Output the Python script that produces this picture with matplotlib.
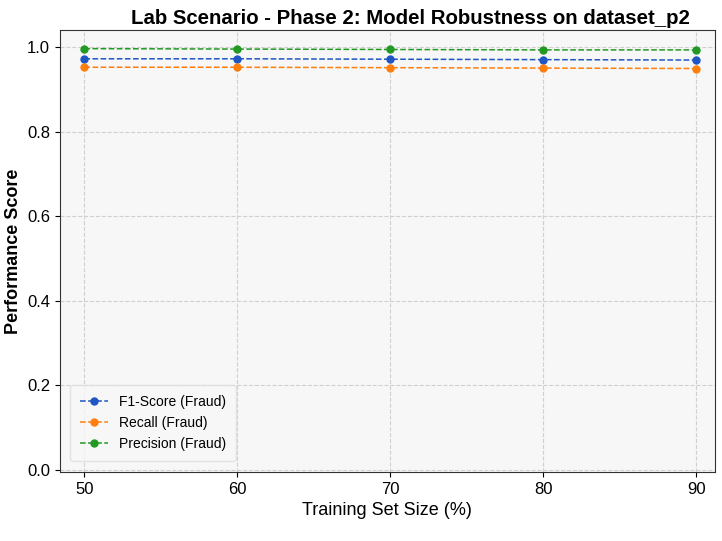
import matplotlib
matplotlib.use("Agg")
import matplotlib.pyplot as plt

plt.rcParams['font.family'] = ['Liberation Sans', 'DejaVu Sans']

train_sizes = [50, 60, 70, 80, 90]
f1_scores = [0.972, 0.972, 0.971, 0.970, 0.969]
recall_scores = [0.952, 0.952, 0.951, 0.950, 0.949]
precision_scores = [0.996, 0.995, 0.994, 0.993, 0.993]

series = [
    ("F1-Score (Fraud)", f1_scores, "#1f56c2"),
    ("Recall (Fraud)", recall_scores, "#ff7f0e"),
    ("Precision (Fraud)", precision_scores, "#229922"),
]

fig = plt.figure(figsize=(7.22, 5.41), dpi=100)
ax = fig.add_axes([0.083, 0.1275, 0.907, 0.817])
ax.set_facecolor("#f7f7f7")

for label, vals, col in series:
    ax.plot(train_sizes, vals, linestyle="--", marker="o", color=col,
            markersize=5, linewidth=1.1, label=label)

ax.set_xlim(48.4, 91.2)
ax.set_ylim(-0.005, 1.04)
ax.set_xticks(train_sizes)
ax.set_yticks([0.0, 0.2, 0.4, 0.6, 0.8, 1.0])
ax.grid(True, linestyle="--", color="#d0d0d0", linewidth=0.8)
ax.tick_params(labelsize=12)
for s in ax.spines.values():
    s.set_color("#333333")

ax.set_xlabel("Training Set Size (%)", fontsize=13)
ax.set_ylabel("Performance Score", fontsize=13, fontweight="bold")
ax.set_title("Lab Scenario - Phase 2: Model Robustness on dataset_p2",
             fontsize=14.7, fontweight="bold", pad=4, x=0.536)
ax.legend(loc="lower left", fontsize=10, frameon=True, facecolor="#f7f7f7",
          edgecolor="#dddddd", borderpad=0.7, labelspacing=0.5,
          bbox_to_anchor=(0.005, 0.01))

fig.savefig("out.png", dpi=100)
